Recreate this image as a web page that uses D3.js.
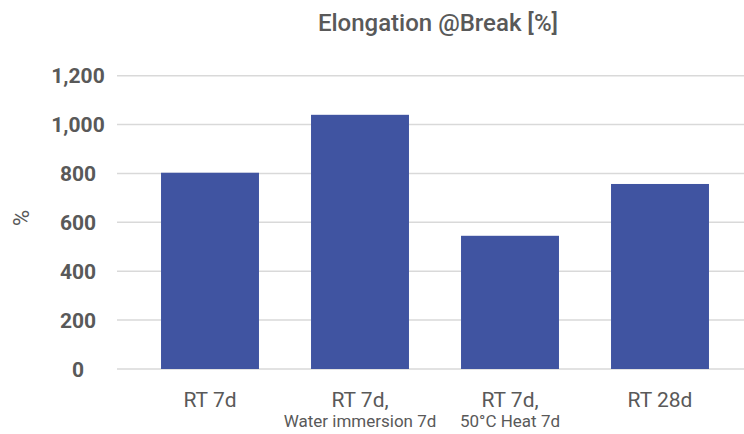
<!DOCTYPE html>
<html>
<head>
<meta charset="utf-8">
<script src="https://cdn.jsdelivr.net/npm/d3@7"></script>
<style>
  body { margin: 0; background: #fff; }
  svg text { font-family: Roboto, "Noto Sans", sans-serif; fill: #595959; }
</style>
</head>
<body>
<script>
  // chart data
  var categories = ["RT 7d", "RT 7d,|Water immersion 7d", "RT 7d,|50°C Heat 7d", "RT 28d"];
  var values = [803, 1040, 545, 757];
  var yTicks = [0, 200, 400, 600, 800, 1000, 1200];
  var title = "Elongation @Break [%]";
  var yTitle = "%";

  var W = 744, H = 434;
  var board = d3.select("body").append("svg")
    .attr("width", W)
    .attr("height", H);

  var x = d3.scaleBand()
    .domain(categories)
    .range([135, 735])
    .paddingInner(0.347)
    .paddingOuter(0.1735);

  var y = d3.scaleLinear()
    .domain([0, 1200])
    .range([369, 75.7]);

  // gridlines
  board.selectAll("line.grid").data(yTicks).enter()
    .append("line")
    .attr("class", "grid")
    .attr("x1", 117)
    .attr("x2", W)
    .attr("y1", function(d){ return y(d); })
    .attr("y2", function(d){ return y(d); })
    .attr("stroke", "#d9d9d9")
    .attr("stroke-width", 1.5);

  // y tick labels
  var fmt = d3.format(",");
  board.selectAll("text.ytick").data(yTicks).enter()
    .append("text")
    .attr("class", "ytick")
    .attr("x", 78)
    .attr("y", function(d){ return y(d) + 7.5; })
    .attr("text-anchor", "middle")
    .attr("font-size", 21)
    .attr("font-weight", "bold")
    .text(function(d){ return fmt(d); });

  // bars
  board.selectAll("rect.bar").data(values).enter()
    .append("rect")
    .attr("class", "bar")
    .attr("x", function(d, i){ return x(categories[i]); })
    .attr("width", x.bandwidth())
    .attr("y", function(d){ return y(d); })
    .attr("height", function(d){ return y(0) - y(d); })
    .attr("fill", "#4054a1");

  // x labels, second line smaller
  var xl = board.selectAll("text.xlab").data(categories).enter()
    .append("text")
    .attr("class", "xlab")
    .attr("text-anchor", "middle")
    .attr("x", function(d){ return x(d) + x.bandwidth() / 2; });
  xl.append("tspan")
    .attr("y", 407)
    .attr("font-size", 21)
    .text(function(d){ return d.split("|")[0]; });
  xl.append("tspan")
    .attr("x", function(d){ return x(d) + x.bandwidth() / 2; })
    .attr("y", 427)
    .attr("font-size", 17)
    .text(function(d){ return d.split("|")[1] || ""; });

  // title
  board.append("text")
    .attr("x", 438)
    .attr("y", 31)
    .attr("text-anchor", "middle")
    .attr("font-size", 24)
    .attr("font-weight", 500)
    .text(title);

  // y axis title
  board.append("text")
    .attr("transform", "translate(29,218) rotate(-90)")
    .attr("text-anchor", "middle")
    .attr("font-size", 22)
    .text(yTitle);
</script>
</body>
</html>
